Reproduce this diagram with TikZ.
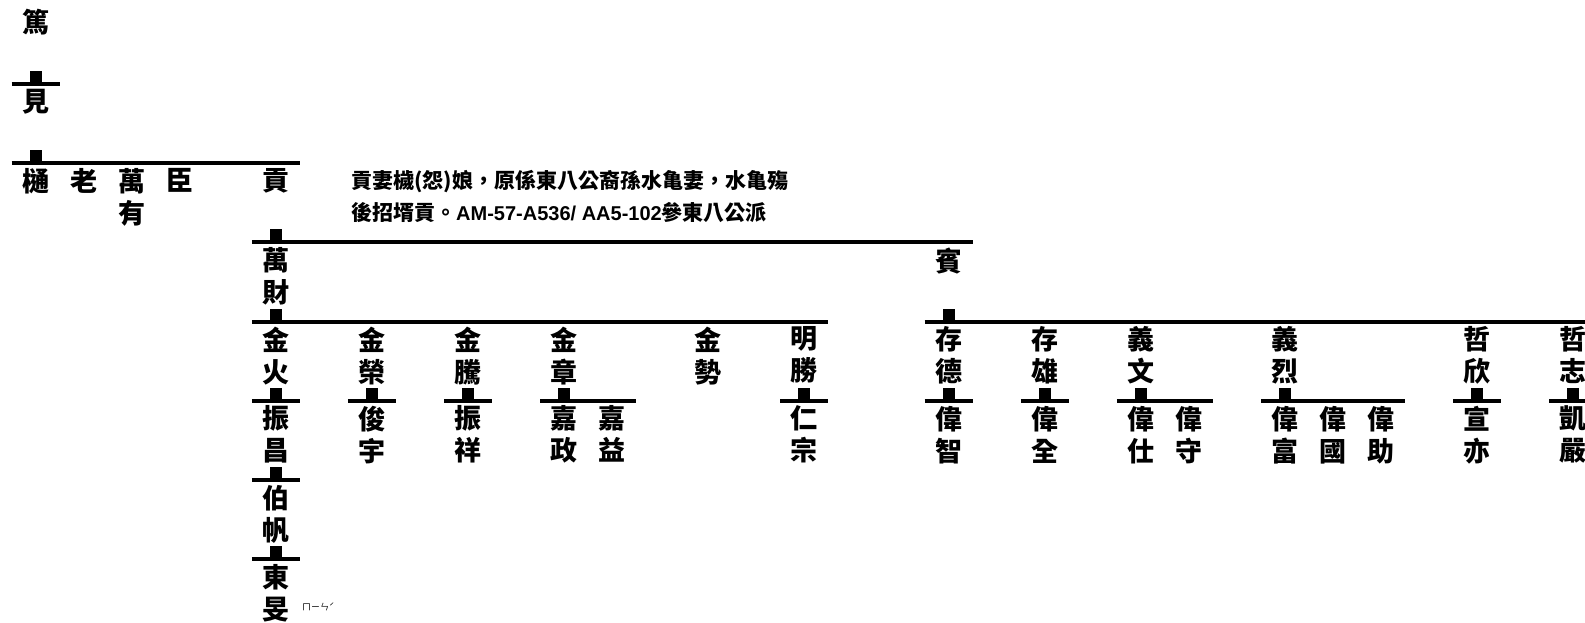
\documentclass[tikz,border=0pt]{standalone}
\usepackage{fontspec}
\setmainfont{Noto Sans CJK TC}
\newfontfamily\latinfont{Liberation Sans}
\usetikzlibrary{calc}
\newcommand\fambar[4]{% #1 parent, #2 first child, #3 last child, #4 line coordinate
  \draw[barline] ($(#2.north |- #4)+(-24,0)$) -- ($(#3.north |- #4)+(24,0)$);
  \fill[markbox] ($(#1.north |- #4)+(-6,0)$) rectangle ++(12,-13);
}
\begin{document}
\begin{tikzpicture}[x=1pt,y=-1pt,
  person/.style={font=\fontsize{27}{32}\selectfont\bfseries, align=center, inner sep=0pt, anchor=north},
  notetext/.style={font=\fontsize{21}{30}\selectfont\bfseries, inner sep=0pt, anchor=base west},
  zhuyin/.style={font=\fontsize{9}{10}\selectfont, inner sep=0pt, anchor=west},
  barline/.style={line width=4pt, black},
  markbox/.style={black}]
\useasboundingbox (0,0) rectangle (1585,622);
\clip (0,0) rectangle (1585,622);
% generation lines
\coordinate (L1) at (0,84);
\coordinate (L2) at (0,163.2);
\coordinate (L3) at (0,242.3);
\coordinate (L4) at (0,321.5);
\coordinate (L5) at (0,400.7);
\coordinate (L6) at (0,479.9);
\coordinate (L7) at (0,559);
% generation 0,1
\node[person] (du) at ({35.5+48.06*0},9) {篤};
\node[person] (jian) at ({35.5+48.06*0},89) {見};
% generation 2
\node[person] (tong) at ({35.5+48.06*0},168.2) {樋};
\node[person] (lao) at ({35.5+48.06*1},168.2) {老};
\node[person] (wanyou) at ({35.5+48.06*2},168.2) {萬\\有};
\node[person] (chen) at ({35.5+48.06*3},168.2) {臣};
\node[person] (gong) at ({35.5+48.06*5},168.2) {貢};
% note
\node[notetext] (note1) at (351,188) {貢妻檅(怨)娘，原係東八公裔孫水亀妻，水亀殤};
\node[notetext] (note2) at (351,220) {後招壻貢。{\latinfont\fontsize{20}{30}\selectfont\bfseries AM-57-A536/ AA5-102}參東八公派};
% generation 3
\node[person] (wancai) at ({35.5+48.06*5},247.3) {萬\\財};
\node[person] (bin) at ({35.5+48.06*19},247.3) {賓};
% generation 4
\node[person] (jinhuo) at ({35.5+48.06*5},326.5) {金\\火};
\node[person] (jinrong) at ({35.5+48.06*7},326.5) {金\\榮};
\node[person] (jinteng) at ({35.5+48.06*9},326.5) {金\\騰};
\node[person] (jinzhang) at ({35.5+48.06*11},326.5) {金\\章};
\node[person] (jinshi) at ({35.5+48.06*14},326.5) {金\\勢};
\node[person] (mingsheng) at ({35.5+48.06*16},326.5) {明\\勝};
\node[person] (cunde) at ({35.5+48.06*19},326.5) {存\\德};
\node[person] (cunxiong) at ({35.5+48.06*21},326.5) {存\\雄};
\node[person] (yiwen) at ({35.5+48.06*23},326.5) {義\\文};
\node[person] (yilie) at ({35.5+48.06*26},326.5) {義\\烈};
\node[person] (zhexin) at ({35.5+48.06*30},326.5) {哲\\欣};
\node[person] (zhezhi) at ({35.5+48.06*32},326.5) {哲\\志};
% generation 5
\node[person] (zhenchang) at ({35.5+48.06*5},405.7) {振\\昌};
\node[person] (junyu) at ({35.5+48.06*7},405.7) {俊\\宇};
\node[person] (zhenxiang) at ({35.5+48.06*9},405.7) {振\\祥};
\node[person] (jiazheng) at ({35.5+48.06*11},405.7) {嘉\\政};
\node[person] (jiayi) at ({35.5+48.06*12},405.7) {嘉\\益};
\node[person] (renzong) at ({35.5+48.06*16},405.7) {仁\\宗};
\node[person] (weizhi) at ({35.5+48.06*19},405.7) {偉\\智};
\node[person] (weiquan) at ({35.5+48.06*21},405.7) {偉\\全};
\node[person] (weishi) at ({35.5+48.06*23},405.7) {偉\\仕};
\node[person] (weishou) at ({35.5+48.06*24},405.7) {偉\\守};
\node[person] (weifu) at ({35.5+48.06*26},405.7) {偉\\富};
\node[person] (weiguo) at ({35.5+48.06*27},405.7) {偉\\國};
\node[person] (weizhu) at ({35.5+48.06*28},405.7) {偉\\助};
\node[person] (xuanyi) at ({35.5+48.06*30},405.7) {宣\\亦};
\node[person] (kaiyan) at ({35.5+48.06*32},405.7) {凱\\嚴};
% generation 6,7
\node[person] (bofan) at ({35.5+48.06*5},484.9) {伯\\帆};
\node[person] (dongmin) at ({35.5+48.06*5},564) {東\\旻};
\node[zhuyin] (pron) at (302,607) {ㄇㄧㄣˊ};
% family bars
\fambar{du}{jian}{jian}{L1}
\fambar{jian}{tong}{gong}{L2}
\fambar{gong}{wancai}{bin}{L3}
\fambar{wancai}{jinhuo}{mingsheng}{L4}
\fambar{bin}{cunde}{zhezhi}{L4}
\fambar{jinhuo}{zhenchang}{zhenchang}{L5}
\fambar{jinrong}{junyu}{junyu}{L5}
\fambar{jinteng}{zhenxiang}{zhenxiang}{L5}
\fambar{jinzhang}{jiazheng}{jiayi}{L5}
\fambar{mingsheng}{renzong}{renzong}{L5}
\fambar{cunde}{weizhi}{weizhi}{L5}
\fambar{cunxiong}{weiquan}{weiquan}{L5}
\fambar{yiwen}{weishi}{weishou}{L5}
\fambar{yilie}{weifu}{weizhu}{L5}
\fambar{zhexin}{xuanyi}{xuanyi}{L5}
\fambar{zhezhi}{kaiyan}{kaiyan}{L5}
\fambar{zhenchang}{bofan}{bofan}{L6}
\fambar{bofan}{dongmin}{dongmin}{L7}
\end{tikzpicture}
\end{document}
